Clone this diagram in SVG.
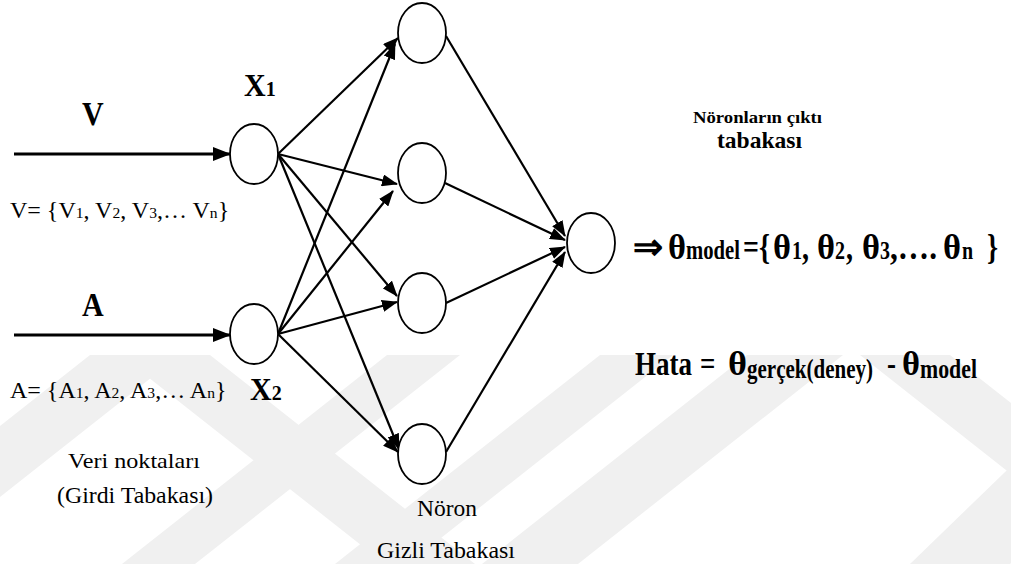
<svg xmlns="http://www.w3.org/2000/svg" width="1011" height="564" viewBox="0 0 1011 564">
<defs>
<style>
.b{font-weight:bold}
.r{font-weight:normal}
.node{fill:#fff;stroke:#000;stroke-width:1.8}
.conn line{stroke:#000;stroke-width:2.2;marker-end:url(#ah)}
.conn line.in{stroke-width:3;marker-end:url(#ahi)}
.wm{fill:#f0f0f0}
</style>
<marker id="ah" markerUnits="userSpaceOnUse" markerWidth="16" markerHeight="12" refX="15" refY="6" orient="auto"><path d="M0,0 L16,6 L0,12 z" fill="#000"/></marker>
<marker id="ahi" markerUnits="userSpaceOnUse" markerWidth="18" markerHeight="14" refX="17" refY="7" orient="auto"><path d="M0,0 L18,7 L0,14 z" fill="#000"/></marker>
</defs>
<rect width="1011" height="564" fill="#fff"/>
<g id="watermark">
<polygon class="wm" points="90,355 180,355 -85,564 -175,564"/>
<polygon class="wm" points="120,355 210,355 475,564 385,564"/>
<polygon class="wm" points="387,355 460,355 195,564 122,564"/>
<polygon class="wm" points="600,355 673,355 408,564 335,564"/>
<polygon class="wm" points="747,355 843,355 578,564 482,564"/>
<polygon class="wm" points="860,355 950,355 1215,564 1125,564"/>
<polygon class="wm" points="1100,380 1200,380 1010,564 910,564"/>
</g>
<g id="connectors" class="conn">
<line class="in" x1="14" y1="154" x2="230" y2="154"/>
<line class="in" x1="14" y1="335" x2="230" y2="335"/>
<line x1="278" y1="154" x2="398" y2="38"/>
<line x1="278" y1="154" x2="397" y2="184"/>
<line x1="278" y1="154" x2="397" y2="296"/>
<line x1="278" y1="154" x2="399" y2="449"/>
<line x1="278" y1="334" x2="395" y2="44"/>
<line x1="278" y1="334" x2="393" y2="191"/>
<line x1="278" y1="334" x2="397" y2="302"/>
<line x1="278" y1="334" x2="398" y2="452"/>
<line x1="446" y1="36" x2="565" y2="236"/>
<line x1="445" y1="183" x2="565" y2="240"/>
<line x1="446" y1="303" x2="565" y2="247"/>
<line x1="446" y1="452" x2="565" y2="252"/>
</g>
<g id="x1"><ellipse class="node" cx="254" cy="154" rx="24" ry="30"/></g>
<g id="x2"><ellipse class="node" cx="254" cy="334" rx="24" ry="30"/></g>
<g id="h1"><ellipse class="node" cx="422" cy="33" rx="24" ry="30"/></g>
<g id="h2"><ellipse class="node" cx="422" cy="173" rx="24" ry="30"/></g>
<g id="h3"><ellipse class="node" cx="422" cy="303" rx="24" ry="30"/></g>
<g id="h4"><ellipse class="node" cx="422" cy="454" rx="24" ry="30"/></g>
<g id="out"><ellipse class="node" cx="591" cy="243" rx="24" ry="30"/></g>
<g id="labels" font-family="'Liberation Serif', 'Times New Roman', serif" fill="#000">
<g transform="matrix(1 0 0 1.1 0 -12.5)"><text class="b" x="82" y="125" font-size="30">V</text></g>
<g transform="matrix(1 0 0 1.1 0 -31.6)"><text class="b" x="82" y="316" font-size="30">A</text></g>
<g transform="matrix(1 0 0 1.05 0 -4.8)"><text class="b" x="244" y="96" font-size="30">X<tspan font-size="20">1</tspan></text></g>
<g transform="matrix(1 0 0 1.05 0 -20)"><text class="b" x="250" y="400" font-size="30">X<tspan font-size="20">2</tspan></text></g>
<text class="r" x="10" y="218" font-size="24">V= {V<tspan font-size="15.6">1</tspan>, V<tspan font-size="15.6">2</tspan>, V<tspan font-size="15.6">3</tspan>,… V<tspan font-size="15.6">n</tspan>}</text>
<text class="r" x="10" y="398" font-size="24">A= {A<tspan font-size="15.6">1</tspan>, A<tspan font-size="15.6">2</tspan>, A<tspan font-size="15.6">3</tspan>,… A<tspan font-size="15.6">n</tspan>}</text>
<text class="r" x="68" y="468" font-size="22" textLength="132" lengthAdjust="spacingAndGlyphs">Veri noktaları</text>
<text class="r" x="57" y="503" font-size="23" textLength="156" lengthAdjust="spacingAndGlyphs">(Girdi Tabakası)</text>
<text class="r" x="417" y="516" font-size="23" textLength="60" lengthAdjust="spacingAndGlyphs">Nöron</text>
<text class="r" x="377" y="558" font-size="23" textLength="138" lengthAdjust="spacingAndGlyphs">Gizli Tabakası</text>
<text class="b" x="693" y="123" font-size="16" textLength="129" lengthAdjust="spacingAndGlyphs">Nöronların çıktı</text>
<text class="b" x="717" y="148" font-size="24" textLength="85" lengthAdjust="spacingAndGlyphs">tabakası</text>
<g transform="matrix(1 0 0 1.28 0 -72.52)">
<text class="b" x="633" y="259" font-size="28" textLength="30" lengthAdjust="spacingAndGlyphs">⇒</text>
<text class="b" x="668" y="259" font-size="28" textLength="18" lengthAdjust="spacingAndGlyphs">θ</text>
<text class="b" x="686" y="259" font-size="21" textLength="54" lengthAdjust="spacingAndGlyphs">model</text>
<text class="b" x="743" y="259" font-size="28">=</text>
<text class="b" x="759" y="259" font-size="28">{</text>
<text class="b" x="773" y="259" font-size="28" textLength="18" lengthAdjust="spacingAndGlyphs">θ</text>
<text class="b" x="792" y="259" font-size="20">1</text>
<text class="b" x="802" y="259" font-size="28">,</text>
<text class="b" x="817" y="259" font-size="28" textLength="18" lengthAdjust="spacingAndGlyphs">θ</text>
<text class="b" x="835" y="259" font-size="20">2</text>
<text class="b" x="846" y="259" font-size="28">,</text>
<text class="b" x="862" y="259" font-size="28" textLength="18" lengthAdjust="spacingAndGlyphs">θ</text>
<text class="b" x="880" y="259" font-size="20">3</text>
<text class="b" x="890" y="259" font-size="28" textLength="47" lengthAdjust="spacingAndGlyphs">,….</text>
<text class="b" x="943" y="259" font-size="28" textLength="18" lengthAdjust="spacingAndGlyphs">θ</text>
<text class="b" x="962" y="259" font-size="20">n</text>
<text class="b" x="987" y="259" font-size="28">}</text>
</g>
<g transform="matrix(1 0 0 1.28 0 -105)">
<text class="b" x="635" y="375" font-size="27" textLength="57" lengthAdjust="spacingAndGlyphs">Hata</text>
<text class="b" x="700" y="375" font-size="27">=</text>
<text class="b" x="728" y="375" font-size="27" textLength="19" lengthAdjust="spacingAndGlyphs">θ</text>
<text class="b" x="747" y="377.5" font-size="21" textLength="126" lengthAdjust="spacingAndGlyphs">gerçek(deney)</text>
<text class="b" x="887" y="375" font-size="27">-</text>
<text class="b" x="902" y="375" font-size="27" textLength="18" lengthAdjust="spacingAndGlyphs">θ</text>
<text class="b" x="920" y="377.5" font-size="21" textLength="57" lengthAdjust="spacingAndGlyphs">model</text>
</g>
</g>
</svg>
